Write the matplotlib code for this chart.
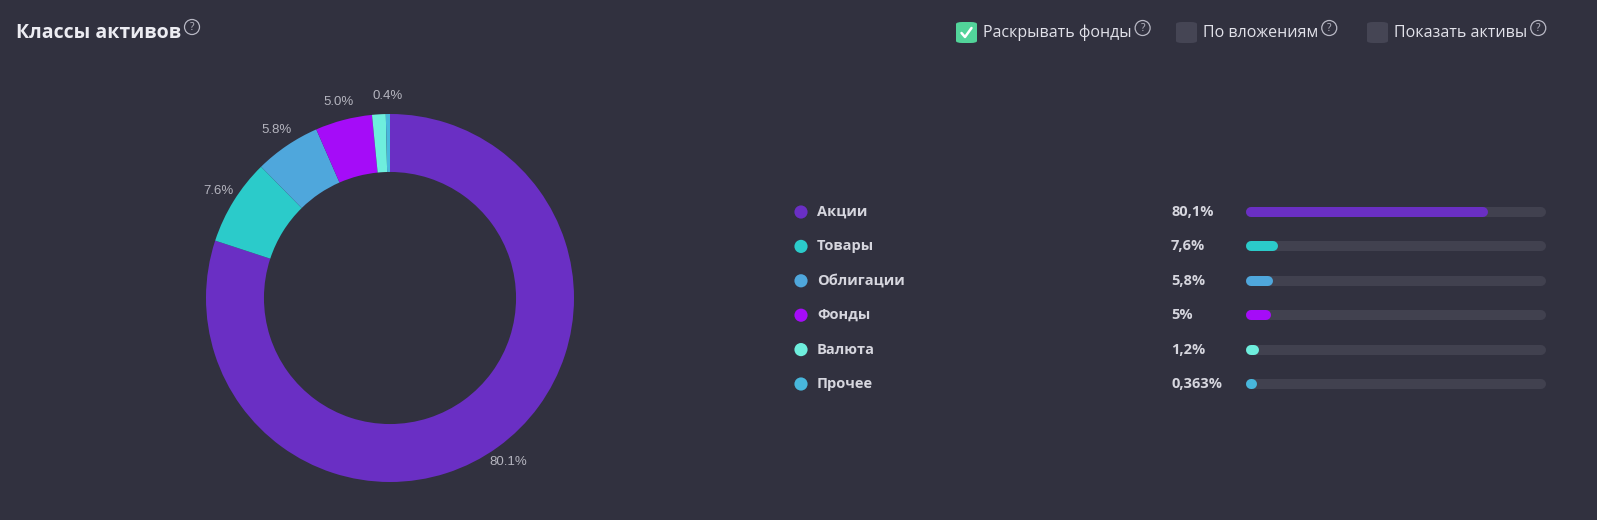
import matplotlib as mpl
mpl.use('Agg')
import matplotlib.pyplot as plt
from matplotlib.patches import FancyBboxPatch, Ellipse

# data
classes = ['Акции', 'Товары', 'Облигации', 'Фонды', 'Валюта', 'Прочее']
shares = [80.1, 7.6, 5.8, 5.0, 1.2, 0.363]
share_labels = ['80,1%', '7,6%', '5,8%', '5%', '1,2%', '0,363%']
colors = ['#6a2fc4', '#2bcbca', '#4fa7dc', '#a50cf8', '#6eeedd', '#48b7dc']
hidden_pie_labels = ['Валюта']
title = 'Классы активов'
toggles = ['Раскрывать фонды', 'По вложениям', 'Показать активы']
toggle_on = [True, False, False]

BG = '#31313f'
TRACK = '#41414f'
W, H = 1597, 520

plt.rcParams['font.family'] = ['Open Sans', 'DejaVu Sans']

fig = plt.figure(figsize=(W / 100, H / 100), dpi=100)
fig.patch.set_facecolor(BG)


def px(x, y):
    # pixel position (top-left origin) -> figure fraction
    return x / W, 1 - y / H


def ax_px(left, top, width, height):
    return fig.add_axes([left / W, 1 - (top + height) / H, width / W, height / H])


def help_icon(x, y, r=7.5):
    fig.patches.append(Ellipse(px(x, y), 2 * r / W, 2 * r / H,
                               transform=fig.transFigure,
                               fill=False, ec='#b8b8c4', lw=0.9))
    fig.text(*px(x, y + 0.5), '?', color='#b8b8c4', fontsize=7.5,
             ha='center', va='center')


# header
fig.text(*px(16, 33), title, color='#ececf2', fontsize=14,
         fontweight='bold', ha='left', va='center')
help_icon(192, 27)

toggle_x = [956, 1176, 1367]
for name, on, x0 in zip(toggles, toggle_on, toggle_x):
    box = FancyBboxPatch(px(x0, 43), 21 / W, 21 / H,
                         boxstyle='round,pad=0,rounding_size=0.004',
                         transform=fig.transFigure,
                         fc='#52d49a' if on else '#454554', ec='none')
    fig.patches.append(box)
    if on:
        xs = [x0 + 5.5, x0 + 9, x0 + 15.5]
        ys = [33, 37, 28]
        fig.lines.append(plt.Line2D([px(a, b)[0] for a, b in zip(xs, ys)],
                                    [px(a, b)[1] for a, b in zip(xs, ys)],
                                    transform=fig.transFigure, color='white',
                                    lw=1.8, solid_capstyle='round',
                                    solid_joinstyle='round'))
    t = fig.text(*px(x0 + 27, 33), name, color='#e2e2ea', fontsize=11.5,
                 ha='left', va='center')
    fig.canvas.draw()
    bb = t.get_window_extent()
    help_icon(bb.x1 + 11, 28)

# donut
cx, cy, R = 390, 298, 184
side = 440
ax = ax_px(cx - side / 2, cy - side / 2, side, side)
ax.set_facecolor(BG)
pie_labels = ['' if c in hidden_pie_labels else '%.1f%%' % s
              for c, s in zip(classes, shares)]
wedges, texts = ax.pie(shares, colors=colors, startangle=90, counterclock=False,
                       radius=1.0, labels=pie_labels, labeldistance=1.10,
                       wedgeprops=dict(width=0.315, edgecolor='none'),
                       textprops=dict(color='#b4b4be', fontsize=9.5,
                                      family=['Liberation Sans', 'DejaVu Sans']))
for t in texts:
    t.set_ha('center')
    t.set_va('center')
lim = side / 2 / R
ax.set_xlim(-lim, lim)
ax.set_ylim(-lim, lim)
ax.set_aspect('equal')
ax.axis('off')

# legend rows
row0, step = 212, 34.4
n = len(classes)
lax = ax_px(0, row0 - step / 2, W, step * n)
lax.set_xlim(0, W)
lax.set_ylim(n - 0.5, -0.5)
lax.axis('off')
rows = list(range(n))
lax.scatter([801] * n, rows, s=90, c=colors, edgecolors='none')
for i, (name, lab) in enumerate(zip(classes, share_labels)):
    lax.text(817, i, name, color='#d6d6de', fontsize=10.5, fontweight='bold',
             ha='left', va='center')
    lax.text(1171, i, lab, color='#d6d6de', fontsize=10.5, fontweight='bold',
             ha='left', va='center')

# progress bars (round caps stick out 5px on each side)
bar_lw = 10 * 72 / 100
bax = ax_px(1251, row0 - step / 2, 290, step * n)
bax.set_xlim(0, 100)
bax.set_ylim(n - 0.5, -0.5)
bax.axis('off')
for i, (s, c) in enumerate(zip(shares, colors)):
    bax.plot([0, 100], [i, i], color=TRACK, lw=bar_lw,
             solid_capstyle='round', clip_on=False)
    bax.plot([0, s], [i, i], color=c, lw=bar_lw,
             solid_capstyle='round', clip_on=False)

fig.savefig('out.png', dpi=100, facecolor=BG)
